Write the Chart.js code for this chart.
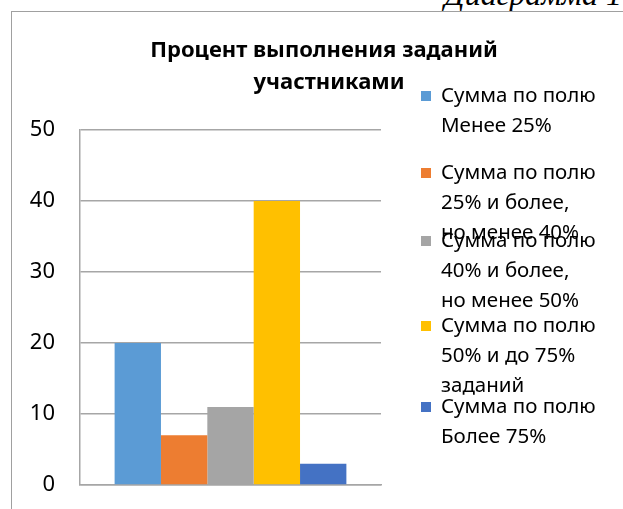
<!DOCTYPE html>
<html lang="ru">
<head>
<meta charset="utf-8">
<script src="https://cdn.jsdelivr.net/npm/chart.js@4"></script>
<style>
  html, body { margin: 0; padding: 0; background: #fff; overflow: hidden; }
  body { width: 623px; height: 509px; position: relative; }
  #caption {
    position: absolute; right: 1px; top: -24px;
    font: italic 32px "Liberation Serif", "DejaVu Serif", serif;
    color: #000; white-space: nowrap;
  }
  #frame {
    position: absolute; left: 11px; top: 11px; width: 640px; height: 520px;
    border-left: 1.5px solid #a0a0a0; border-top: 1.5px solid #a0a0a0;
  }
  #wrap { position: absolute; left: 12px; top: 13px; width: 611px; height: 496px; }
</style>
</head>
<body>
<div id="caption">Диаграмма 1</div>
<div id="frame"></div>
<div id="wrap"><canvas id="chart"></canvas></div>
<script>
const chartTitle = ['Процент выполнения заданий', 'участниками'];
const categories = [''];
const seriesNames = [
  ['Сумма по полю', 'Менее 25%'],
  ['Сумма по полю', '25% и более,', 'но менее 40%'],
  ['Сумма по полю', '40% и более,', 'но менее 50%'],
  ['Сумма по полю', '50% и до 75%', 'заданий'],
  ['Сумма по полю', 'Более 75%']
];
const seriesValues = [20, 7, 11, 40, 3];
const seriesColors = ['#5B9BD5', '#ED7D31', '#A5A5A5', '#FFC000', '#4472C4'];
const yTicks = [0, 10, 20, 30, 40, 50];

const textFont = '"Noto Sans", "Open Sans", sans-serif';

// title and legend drawn by hand: the legend labels wrap over several lines
const sideText = {
  id: 'sideText',
  afterDraw(chart) {
    const ctx = chart.ctx;
    ctx.save();
    ctx.fillStyle = '#000';
    ctx.textAlign = 'center';
    ctx.textBaseline = 'middle';
    ctx.font = 'bold 22px ' + textFont;
    chartTitle.forEach((line, i) => ctx.fillText(line, 312 + i * 5, 38 + i * 32));

    // legend blocks start where each previous one ends
    const starts = [83, 160, 228, 313, 394];
    ctx.textAlign = 'left';
    ctx.font = '20.5px ' + textFont;
    chart.data.datasets.forEach((ds, i) => {
      const y0 = starts[i];
      ctx.fillStyle = ds.backgroundColor;
      ctx.fillRect(409, y0 - 5, 10, 10);
      ctx.fillStyle = '#000';
      ds.label.forEach((line, j) => ctx.fillText(line, 429, y0 + j * 30));
    });
    ctx.restore();
  }
};

new Chart(document.getElementById('chart'), {
  type: 'bar',
  data: {
    labels: categories,
    datasets: seriesValues.map((v, i) => ({
      label: seriesNames[i],
      data: [v],
      backgroundColor: seriesColors[i],
      categoryPercentage: 0.77,
      barPercentage: 1
    }))
  },
  options: {
    responsive: true,
    maintainAspectRatio: false,
    animation: false,
    layout: { padding: { top: 117, right: 242, bottom: 0, left: 0 } },
    plugins: { legend: { display: false }, title: { display: false }, tooltip: { enabled: false } },
    scales: {
      x: {
        afterFit: (s) => { s.height = 0; },
        ticks: { display: false },
        grid: { display: false },
        border: { display: true, color: '#a6a6a6', width: 1.5 }
      },
      y: {
        min: 0, max: 50,
        afterBuildTicks: (s) => { s.ticks = yTicks.map(v => ({ value: v })); },
        afterFit: (s) => { s.width = 68; s.paddingBottom = 24; s.paddingTop = 0; },
        ticks: { padding: 25, color: '#000', font: { family: textFont, size: 22 } },
        grid: { color: '#a6a6a6', lineWidth: 1.5, drawTicks: false },
        border: { display: true, color: '#a6a6a6', width: 1.5 }
      }
    }
  },
  plugins: [sideText]
});
</script>
</body>
</html>
